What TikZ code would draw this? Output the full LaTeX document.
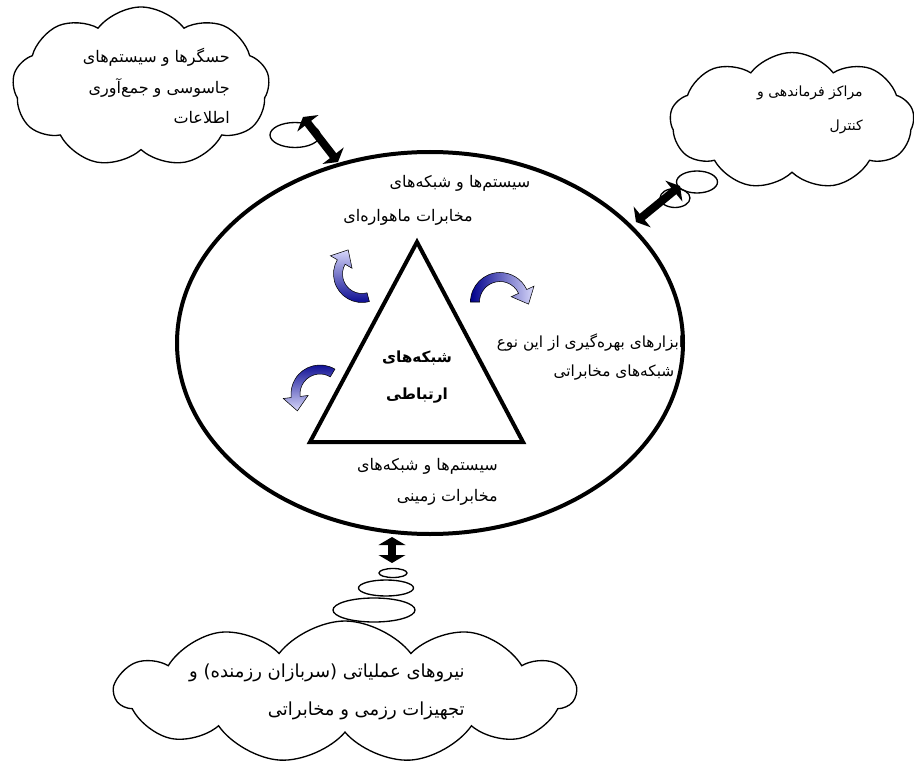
\documentclass[tikz,border=0pt]{standalone}
\usepackage{fontspec}
\newfontfamily\farsi[Script=Arabic]{DejaVu Sans}
\TeXXeTstate=1
\usetikzlibrary{positioning, arrows.meta, calc, shapes.geometric, shapes.symbols}

\definecolor{arrowdark}{RGB}{0,0,140}
\definecolor{arrowlight}{RGB}{215,215,250}

% texto de derecha a izquierda
\newcommand{\fa}[1]{\beginR #1\endR}

% flecha curva: centro, radio, angulo inicial, angulo final, giro (90/-90), sombreado
\newcommand{\curvedarrow}[6]{%
  \path[curved arrow, #6]
    ($#1+({#3}:{#2+4.5})$) arc[start angle=#3, end angle=#4, radius=#2+4.5]
    -- ($#1+({#4}:{#2+12.5})$)
    -- ($#1+({#4}:{#2})+({#4+(#5)}:14)$)
    -- ($#1+({#4}:{#2-12.5})$)
    -- ($#1+({#4}:{#2-4.5})$) arc[start angle=#4, end angle=#3, radius=#2-4.5]
    -- cycle;}

\begin{document}
\begin{tikzpicture}[
    x=0.75pt, y=-0.75pt,
    cloudbox/.style={cloud, cloud puffs=#1, cloud puff arc=105, cloud ignores aspect, draw, line width=1pt, inner sep=0pt},
    bubble/.style={ellipse, draw, line width=1pt, inner sep=0pt},
    link/.style={line width=6pt, {Triangle[length=6pt,width=20pt]}-{Triangle[length=6pt,width=20pt]}},
    lbl/.style={font=\farsi\fontsize{12}{23}\selectfont, inner sep=0pt, align=right},
    curved arrow/.style={draw=black, line width=0.4pt}
]

\def\pix{0.75pt}
\useasboundingbox (0,0) rectangle (914,763);

% ------------------------------------------------------------------------------
% 1. ELIPSE Y TRIANGULO
% ------------------------------------------------------------------------------
\node[draw, ellipse, line width=3pt, minimum width=506*\pix, minimum height=382*\pix] (red) at (430,343) {};

\coordinate (apex) at (417,242);
\coordinate (base left) at (310,442);
\coordinate (base right) at (523,442);
\draw[line width=3pt] (apex) -- (base left) -- (base right) -- cycle;

\node[lbl, align=center, font=\farsi\bfseries\fontsize{11.5}{28}\selectfont] (core) at (417,377) {\fa{شبکه‌های}\\\fa{ارتباطی}};

% ------------------------------------------------------------------------------
% 2. TEXTOS DENTRO DEL ELIPSE
% ------------------------------------------------------------------------------
\node[lbl] (sat1) at (460,183) {\fa{سیستم‌ها و شبکه‌های}};
\node[lbl] (sat2) at (408,217) {\fa{مخابرات ماهواره‌ای}};
\node[lbl, anchor=east] (ground) at (498,482) {\fa{سیستم‌ها و شبکه‌های}\\\fa{مخابرات زمینی}};
\node[lbl, font=\farsi\fontsize{11.5}{23}\selectfont] (tools1) at (590,343) {\fa{ابزارهای بهره‌گیری از این نوع}};
\node[lbl, font=\farsi\fontsize{11.5}{23}\selectfont] (tools2) at (614,373) {\fa{شبکه‌های مخابراتی}};

% ------------------------------------------------------------------------------
% 3. FLECHAS CURVAS
% ------------------------------------------------------------------------------
\curvedarrow{(500,302)}{25}{180}{335}{90}{left color=arrowdark, right color=arrowlight}
\curvedarrow{(362,274)}{24}{75}{210}{90}{top color=arrowlight, bottom color=arrowdark}
\curvedarrow{(320,394)}{24.5}{301}{173}{-90}{top color=arrowdark, bottom color=arrowlight}

% ------------------------------------------------------------------------------
% 4. NUBES Y ENLACES
% ------------------------------------------------------------------------------
% Sensores
\node[cloudbox=9, minimum width=257*\pix, minimum height=160*\pix] (sensors) at (141,87) {};
\node[lbl, anchor=east] (sensors text) at (230,86) {\fa{حسگرها و سیستم‌های}\\\fa{جاسوسی و جمع‌آوری}\\\fa{اطلاعات}};
\node[bubble, minimum width=50*\pix, minimum height=25*\pix] (sensors bubble) at (295,135) {};
\coordinate (sensors start) at (303,117);
\coordinate (sensors end) at (338,162);
\draw[link] (sensors start) -- (sensors end);

% Mando y control
\node[cloudbox=9, minimum width=244*\pix, minimum height=137*\pix] (command) at (792,121) {};
\node[lbl, anchor=east, font=\farsi\fontsize{10.5}{26}\selectfont] (command text) at (863,110) {\fa{مراکز فرماندهی و}\\\fa{کنترل}};
\node[bubble, minimum width=41*\pix, minimum height=22*\pix] (command bubble1) at (697,182) {};
\node[bubble, minimum width=30*\pix, minimum height=19*\pix] (command bubble2) at (675,198) {};
\coordinate (command start) at (680,186);
\coordinate (command end) at (636,222);
\draw[link] (command start) -- (command end);

% Fuerzas operativas
\node[cloudbox=11, minimum width=460*\pix, minimum height=142*\pix] (forces) at (345,692) {};
\node[lbl, anchor=east, font=\farsi\fontsize{13.5}{29}\selectfont] (forces text) at (465,692) {\fa{نیروهای عملیاتی (سربازان رزمنده) و}\\\fa{تجهیزات رزمی و مخابراتی}};
\node[bubble, minimum width=28*\pix, minimum height=9*\pix] (forces bubble1) at (393,573) {};
\node[bubble, minimum width=55*\pix, minimum height=16*\pix] (forces bubble2) at (386,588) {};
\node[bubble, minimum width=82*\pix, minimum height=24*\pix] (forces bubble3) at (374,610) {};
\coordinate (forces start) at (392,537);
\coordinate (forces end) at (392,563);
\draw[link] (forces start) -- (forces end);

\end{tikzpicture}
\end{document}
